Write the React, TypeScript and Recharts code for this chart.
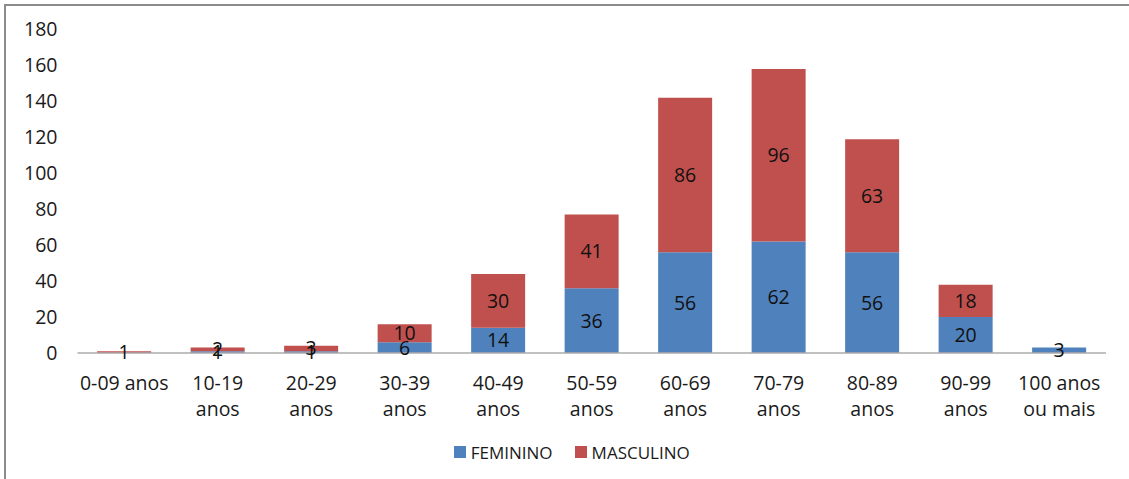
import React from 'react';
import { BarChart, Bar, XAxis, YAxis, Legend, LabelList } from 'recharts';

const categories = [
  '0-09 anos',
  '10-19\nanos',
  '20-29\nanos',
  '30-39\nanos',
  '40-49\nanos',
  '50-59\nanos',
  '60-69\nanos',
  '70-79\nanos',
  '80-89\nanos',
  '90-99\nanos',
  '100 anos\nou mais',
];
const feminino = [0, 1, 1, 6, 14, 36, 56, 62, 56, 20, 3];
const masculino = [1, 2, 3, 10, 30, 41, 86, 96, 63, 18, 0];
const yTicks = [0, 20, 40, 60, 80, 100, 120, 140, 160, 180];

const FONT = '"Open Sans", "Liberation Sans", sans-serif';
const BLUE = '#4F81BD';
const RED = '#C0504D';

const data = categories.map((c, i) => ({ faixa: c, feminino: feminino[i], masculino: masculino[i] }));

const XTick = ({ x, y, payload }: any) => {
  const lines = String(payload.value).split('\n');
  return (
    <g transform={`translate(${x},${y})`}>
      {lines.map((line, i) => (
        <text
          key={i}
          x={0}
          y={29 + i * 26}
          textAnchor="middle"
          dominantBaseline="central"
          fontFamily={FONT}
          fontSize={19.5}
          fill="#1a1a1a"
        >
          {line}
        </text>
      ))}
    </g>
  );
};

// Excel leaves empty segments unlabeled
const hideZero = (v: any) => (v ? v : '');

const LegendBox = () => (
  <div style={{ height: 40, display: 'flex', justifyContent: 'center', fontFamily: FONT, fontSize: 17, color: '#1a1a1a' }}>
    <div style={{ display: 'flex', alignItems: 'center', height: 26, marginLeft: 32 }}>
      <span style={{ width: 12, height: 12, background: BLUE, marginRight: 5 }} />
      <span style={{ marginRight: 22 }}>FEMININO</span>
      <span style={{ width: 12, height: 12, background: RED, marginRight: 5 }} />
      <span>MASCULINO</span>
    </div>
  </div>
);

export default function App() {
  return (
    <div style={{ position: 'absolute', left: 0, top: 0, width: 1129, height: 479, background: '#fff' }}>
      <div
        style={{
          position: 'absolute',
          left: 4,
          top: 4,
          width: 1125,
          height: 475,
          borderLeft: '2px solid #8c8c8c',
          borderTop: '2px solid #8c8c8c',
        }}
      />
      <BarChart
        width={1129}
        height={479}
        data={data}
        margin={{ top: 29.5, right: 23, left: 5.5, bottom: 0 }}
        barCategoryGap="21%"
      >
        <XAxis
          dataKey="faixa"
          interval={0}
          height={86}
          tickLine={false}
          tickSize={0}
          tickMargin={0}
          axisLine={{ stroke: '#ababab', strokeWidth: 1.5 }}
          tick={<XTick />}
        />
        <YAxis
          width={72}
          domain={[0, 180]}
          ticks={yTicks}
          axisLine={false}
          tickLine={false}
          tickSize={0}
          tickMargin={20}
          tick={{ fontFamily: FONT, fontSize: 19.5, fill: '#1a1a1a' }}
        />
        <Legend verticalAlign="bottom" content={<LegendBox />} />
        <Bar dataKey="feminino" name="FEMININO" stackId="a" fill={BLUE} isAnimationActive={false}>
          <LabelList dataKey="feminino" position="center" formatter={hideZero} fontFamily={FONT} fontSize={19.5} fill="#111" />
        </Bar>
        <Bar dataKey="masculino" name="MASCULINO" stackId="a" fill={RED} isAnimationActive={false}>
          <LabelList dataKey="masculino" position="center" formatter={hideZero} fontFamily={FONT} fontSize={19.5} fill="#111" />
        </Bar>
      </BarChart>
    </div>
  );
}
